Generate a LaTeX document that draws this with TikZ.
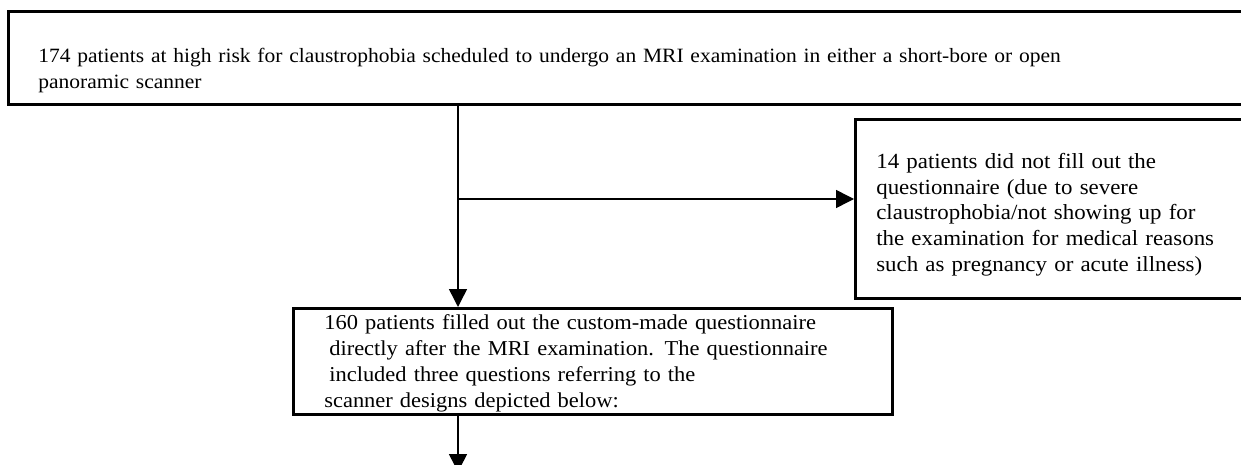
\documentclass[tikz,border=0pt]{standalone}
\usepackage{fontspec}
\setmainfont[FakeStretch=1.06]{Liberation Serif}
\usepackage{tikz}
\usetikzlibrary{arrows.meta,positioning}

\tikzset{
  flowbox/.style={draw,line width=1.3pt,rectangle,anchor=north west,align=left,
    inner ysep=0pt,font=\fontsize{10.15}{13}\selectfont},
  flowarrow/.style={line width=0.75pt,-{Triangle[length=9pt,width=9pt]}}
}

\begin{document}
\begin{tikzpicture}[x=0.5pt,y=-0.5pt]
\useasboundingbox[fill=white] (0,0) rectangle (1241,465);
\node (enrolled)[flowbox,inner xsep=15pt,text width=591.5pt,
  text height=25.5pt,text depth=21pt] at (7,10)
  {174 patients at high risk for claustrophobia scheduled to undergo an MRI examination in either a short-bore or open\\
   panoramic scanner};

\node (excluded)[flowbox,inner xsep=10.5pt,text width=177pt,
  text height=24.5pt,text depth=65pt,font=\fontsize{10.8}{12.9}\selectfont] at (854,118)
  {14 patients did not fill out the\\
   questionnaire (due to severe\\
   claustrophobia/not showing up for\\
   the examination for medical reasons\\
   such as pregnancy or acute illness)};

\node (questionnaire)[flowbox,inner xsep=15.5pt,text width=268.5pt,
  text height=10.5pt,text depth=42.5pt,font=\fontsize{10.6}{13}\selectfont] at (292,307)
  {160 patients filled out the custom-made questionnaire\\
   \hspace{2.5pt}directly after the MRI examination. The questionnaire\\
   \hspace{2.5pt}included three questions referring to the\\
   scanner designs depicted below:};

\coordinate (split) at (458,199);
\coordinate (next) at (458,472);
% draw the connections
\draw[flowarrow] (enrolled.south -| split)--(questionnaire.north -| split);
\draw[flowarrow] (split)--(excluded.west |- split);
\draw[flowarrow] (questionnaire.south -| split)--(next);
\end{tikzpicture}
\end{document}
